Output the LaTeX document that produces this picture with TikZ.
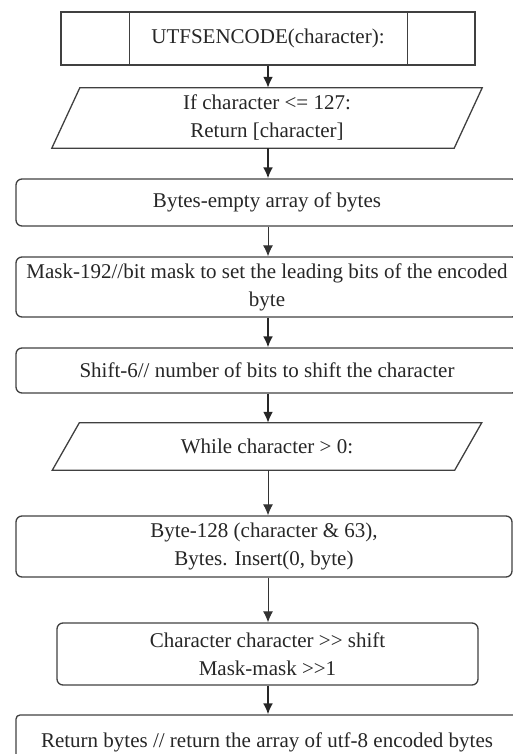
\documentclass[tikz,border=0pt]{standalone}
\usepackage{fontspec}
\setmainfont{Liberation Serif}
\usetikzlibrary{arrows.meta}
\begin{document}
\begin{tikzpicture}[>={Latex[length=11pt,width=10pt]},x=1pt,y=-1pt,
  every node/.style={font=\fontsize{21}{28}\selectfont,text=black!85,align=center,inner sep=0pt},
  stepbox/.style={draw=black!75,line width=1.3pt,rounded corners=6pt},
  iobox/.style={minimum width=402,minimum height=#1},
  flowthick/.style={->,draw=black!85,line width=1.9pt},
  flowthin/.style={->,draw=black!80,line width=1pt}]
\useasboundingbox (0,0) rectangle (513,754);
\clip (0,0) rectangle (513,754);
% Header (predefined process)
\node[draw=black!75,line width=1.3pt,minimum width=414,minimum height=53] (head) at (268,38.5) {UTFSENCODE(character):};
\draw[black!75,line width=1.3pt] ([xshift=69]head.north west) -- ([xshift=69]head.south west);
\draw[black!75,line width=1.3pt] ([xshift=-68]head.north east) -- ([xshift=-68]head.south east);
% Condition (input/output)
\node[iobox=60] (cond) at (267,118) {If character <= 127:\\Return [character]};
\draw[black!75,line width=1.3pt] ([xshift=14]cond.north west) -- ([xshift=14]cond.north east) -- ([xshift=-14]cond.south east) -- ([xshift=-14]cond.south west) -- cycle;
% Process steps
\node[stepbox,minimum width=502,minimum height=47] (bytes) at (267,202.5) {Bytes-empty array of bytes};
\node[stepbox,minimum width=502,minimum height=60] (mask) at (267,287) {Mask-192//bit mask to set the leading bits of the encoded\\byte};
\node[stepbox,minimum width=502,minimum height=45] (shift) at (267,370.5) {Shift-6// number of bits to shift the character};
% Loop condition
\node[iobox=47] (loop) at (267,446.5) {While character > 0:};
\draw[black!75,line width=1.3pt] ([xshift=13.5]loop.north west) -- ([xshift=13.5]loop.north east) -- ([xshift=-13.5]loop.south east) -- ([xshift=-13.5]loop.south west) -- cycle;
% Loop body
\node[stepbox,minimum width=496,minimum height=61] (byte) at (264,546.5) {Byte-128 (character \& 63),\\Bytes. Insert(0, byte)};
\node[stepbox,minimum width=421,minimum height=62] (update) at (267.5,654) {Character character >{}> shift\\Mask-mask >{}>1};
\node[stepbox,rounded corners=4pt,minimum width=502,minimum height=54] (ret) at (267,742) {Return bytes // return the array of utf-8 encoded bytes};
% Connectors
\draw[flowthick] (head.south) -- (head.south |- cond.north);
\draw[flowthick] (cond.south -| head.south) -- (head.south |- bytes.north);
\draw[flowthin] (bytes.south -| head.south) -- (head.south |- mask.north);
\draw[flowthick] (mask.south -| head.south) -- (head.south |- shift.north);
\draw[flowthick] (shift.south -| head.south) -- (head.south |- loop.north);
\draw[flowthin] (loop.south -| head.south) -- (head.south |- byte.north);
\draw[flowthin] (byte.south -| head.south) -- (head.south |- update.north);
\draw[flowthick] (update.south -| head.south) -- (head.south |- ret.north);
\end{tikzpicture}
\end{document}
